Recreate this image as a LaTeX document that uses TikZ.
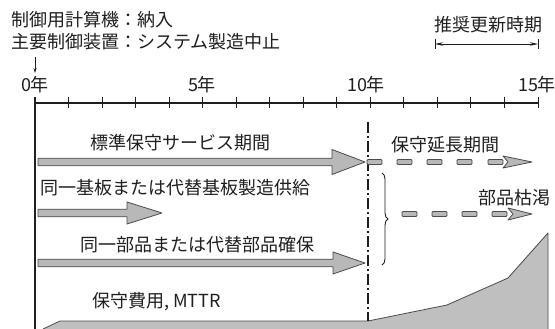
\documentclass[tikz,border=0pt]{standalone}
\usepackage{fontspec}
\setmainfont{Noto Sans CJK JP}
\usetikzlibrary{arrows.meta,decorations.pathreplacing}
\definecolor{ink}{gray}{0.12}
\definecolor{fillg}{gray}{0.72}
\definecolor{areag}{gray}{0.75}
\definecolor{edgeg}{gray}{0.3}
\tikzset{
  lbl/.style={font=\fontsize{18}{20}\selectfont, text=ink, inner sep=0pt},
  fat/.style={fill=fillg, draw=edgeg, line width=0.8pt, line join=round},
  dashbox/.style={fill=fillg, draw=edgeg, line width=0.8pt, rounded corners=1pt},
  dashdotline/.style={ink, line width=1.4pt, dash pattern=on 11pt off 3pt on 2pt off 3pt},
}
% x1, x2 (tip), y, head length, head half-height
\newcommand\fatarrow[5]{%
  \filldraw[fat] (#1,#3-3.8) -- (#2-#4,#3-3.8) -- (#2-#4,#3-#5) -- (#2,#3)
    -- (#2-#4,#3+#5) -- (#2-#4,#3+3.8) -- (#1,#3+3.8) -- cycle;}
% y, list of dash starts, head start
\newcommand\dasharrow[3]{%
  \foreach \dx in {#2} {\filldraw[dashbox] (\dx,#1-2.5) rectangle (\dx+15,#1+2.5);}
  \filldraw[fat] (#3,#1-6) -- (532,#1) -- (#3,#1+6) -- (#3+5,#1) -- cycle;}
\begin{document}
\begin{tikzpicture}[x=1pt,y=-1pt]
\useasboundingbox (0,0) rectangle (555,329);
\fill[white] (0,0) rectangle (555,329);

% top texts
\node[lbl, anchor=west] (l1) at (11,20) {制御用計算機：納入};
\node[lbl, anchor=west] (l2) at (11,42) {主要制御装置：システム製造中止};
\node[lbl] (rec) at (488,25) {推奨更新時期};

% recommended period arrow
\coordinate (r1) at (435,44);
\coordinate (r2) at (538,44);
\draw[ink, line width=0.7pt] ([yshift=-5pt]r1) -- ([yshift=5pt]r1);
\draw[ink, line width=0.7pt] ([yshift=-5pt]r2) -- ([yshift=5pt]r2);
\draw[ink, line width=0.7pt, {Stealth[length=8pt,width=3.5pt]}-{Stealth[length=8pt,width=3.5pt]}] (r1) -- (r2);

% small arrow to 0
\coordinate (s1) at (35,57);
\coordinate (s2) at (35,73);
\draw[ink, line width=0.7pt, -{Stealth[length=5pt,width=3pt]}] (s1) -- (s2);

% year labels
\node[lbl] (y0) at (35,85) {0年};
\node[lbl] (y5) at (202,85) {5年};
\node[lbl] (y10) at (366,85) {10年};
\node[lbl] (y15) at (537,85) {15年};

% axis
\coordinate (ax0) at (35,103);
\coordinate (ax1) at (538,103);
\draw[ink, line width=1.2pt] (ax0) -- (ax1);
\foreach \i in {1,...,15} \draw[ink, line width=0.9pt] (35+33.53*\i,97) -- (35+33.53*\i,108);

% cost area
\fill[areag] (43,329) -- (60,321) -- (368,321) -- (447,305) -- (508,278) -- (548,233) -- (548,329) -- cycle;
\draw[edgeg, line width=0.8pt, line join=round] (43,329) -- (60,321) -- (368,321) -- (447,305) -- (508,278) -- (548,233) -- (548,329);

% left vertical line
\coordinate (v0) at (35,97);
\coordinate (v1) at (35,329);
\draw[ink, line width=2.6pt] (v0) -- (v1);

% 10-year dash-dot line
\coordinate (d0) at (368,122);
\coordinate (d1) at (368,321);
\draw[dashdotline] (d0) -- (d1);

% labels
\node[lbl] (t1) at (180,143) {標準保守サービス期間};
\node[lbl] (t2) at (445,145) {保守延長期間};
\node[lbl, anchor=west] (t3) at (40,188) {同一基板または代替基板製造供給};
\node[lbl] (t4) at (514,198) {部品枯渇};
\node[lbl, anchor=west] (t5) at (80,245) {同一部品または代替部品確保};
\node[lbl, anchor=west] (t6) at (92,302) {保守費用, MTTR};

% arrows
\fatarrow{38}{365}{162}{33}{12.5}
\fatarrow{38}{162}{213}{35}{11}
\fatarrow{38}{365}{263}{32}{11}
\dasharrow{162}{367,397,427,457,488}{503}
\dasharrow{214}{402,432,462,492}{508}

% brace
\coordinate (b0) at (382,173);
\coordinate (b1) at (382,265);
\draw[ink, line width=0.9pt, decorate, decoration={brace, amplitude=6pt}] (b0) -- (b1);
\end{tikzpicture}
\end{document}
